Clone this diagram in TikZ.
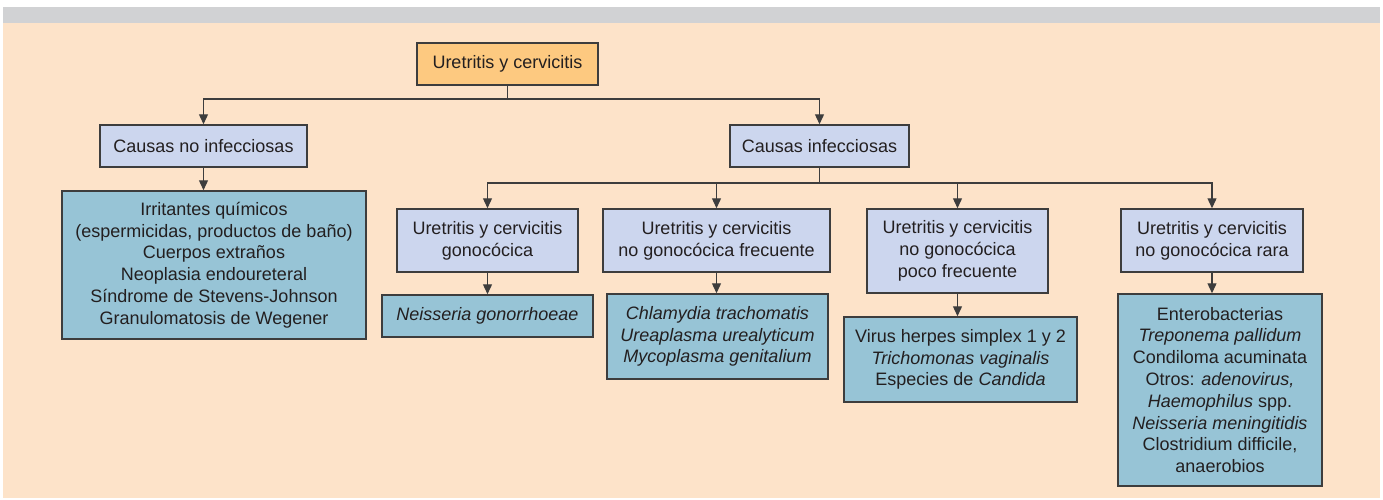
\documentclass[tikz,border=0pt]{standalone}
\usepackage{fontspec}
\setmainfont{Liberation Sans}
\usetikzlibrary{arrows.meta}
\definecolor{peach}{RGB}{253,227,201}
\definecolor{band}{RGB}{209,210,212}
\definecolor{orangebox}{RGB}{253,201,128}
\definecolor{lavbox}{RGB}{204,214,238}
\definecolor{bluebox}{RGB}{151,196,214}
\definecolor{bordercol}{RGB}{61,61,61}
\definecolor{textcol}{RGB}{35,31,32}
\tikzset{
  box/.style={draw=bordercol, line width=1.5pt, inner sep=0pt, align=center,
    text=textcol, font=\fontsize{18}{21.8}\selectfont},
  topbox/.style={box, fill=orangebox},
  lavnode/.style={box, fill=lavbox},
  bluenode/.style={box, fill=bluebox},
  conn/.style={draw=bordercol, line width=1.3pt},
  arr/.style={conn, -{Triangle[length=10pt,width=9pt]}}
}
\begin{document}
\begin{tikzpicture}[x=1pt,y=-1pt]
\useasboundingbox (0,0) rectangle (1383,499);
\fill[peach] (3,23) rectangle (1380,498);
\fill[band] (3,7) rectangle (1380,23);

\node[topbox, minimum width=181pt, minimum height=42pt] (top) at (507.5,64) {Uretritis y cervicitis};
\node[lavnode, minimum width=207pt, minimum height=42pt] (noinf) at (203.5,146) {Causas no infecciosas};
\node[lavnode, minimum width=179pt, minimum height=42pt] (inf) at (819.5,146) {Causas infecciosas};

\node[bluenode, minimum width=304pt, minimum height=148pt] (irrit) at (214,265) {Irritantes químicos\\(espermicidas, productos de baño)\\Cuerpos extraños\\Neoplasia endoureteral\\Síndrome de Stevens-Johnson\\Granulomatosis de Wegener};

\node[lavnode, minimum width=181pt, minimum height=63pt] (gono) at (487.5,240.5) {Uretritis y cervicitis\\gonocócica};
\node[lavnode, minimum width=227pt, minimum height=63pt] (frec) at (716.5,240.5) {Uretritis y cervicitis\\no gonocócica frecuente};
\node[lavnode, minimum width=181pt, minimum height=84pt] (poco) at (957.5,251) {Uretritis y cervicitis\\no gonocócica\\poco frecuente};
\node[lavnode, minimum width=182pt, minimum height=63pt] (rara) at (1212,240.5) {Uretritis y cervicitis\\no gonocócica rara};

\node[bluenode, minimum width=211pt, minimum height=42pt] (neis) at (487.5,316) {\itshape Neisseria gonorrhoeae};
\node[bluenode, minimum width=221pt, minimum height=85pt] (chlam) at (717.5,336.5) {\itshape Chlamydia trachomatis\\\itshape Ureaplasma urealyticum\\\itshape Mycoplasma genitalium};
\node[bluenode, minimum width=233pt, minimum height=85pt] (virus) at (960.5,359.5) {Virus herpes simplex 1 y 2\\\textit{Trichomonas vaginalis}\\Especies de \textit{Candida}};
\node[bluenode, minimum width=204pt, minimum height=192pt] (entero) at (1220,390) {Enterobacterias\\\textit{Treponema pallidum}\\Condiloma acuminata\\Otros: \textit{adenovirus,}\\\textit{Haemophilus} spp.\\\textit{Neisseria meningitidis}\\Clostridium difficile,\\anaerobios};

\coordinate (b1) at (507.5,99);
\coordinate (b2) at (819.5,183);

\draw[conn] (top.south) -- (b1);
\draw[arr] (b1) -| (noinf.north);
\draw[arr] (b1) -| (inf.north);
\draw[arr] (noinf.south) -- (noinf.south |- irrit.north);

\draw[conn] (inf.south) -- (b2);
\draw[arr] (b2) -| (gono.north);
\draw[arr] (b2) -| (frec.north);
\draw[arr] (b2) -| (poco.north);
\draw[arr] (b2) -| (rara.north);

\draw[arr] (gono.south) -- (gono.south |- neis.north);
\draw[arr] (frec.south) -- (frec.south |- chlam.north);
\draw[arr] (poco.south) -- (poco.south |- virus.north);
\draw[arr] (rara.south) -- (rara.south |- entero.north);
\end{tikzpicture}
\end{document}
